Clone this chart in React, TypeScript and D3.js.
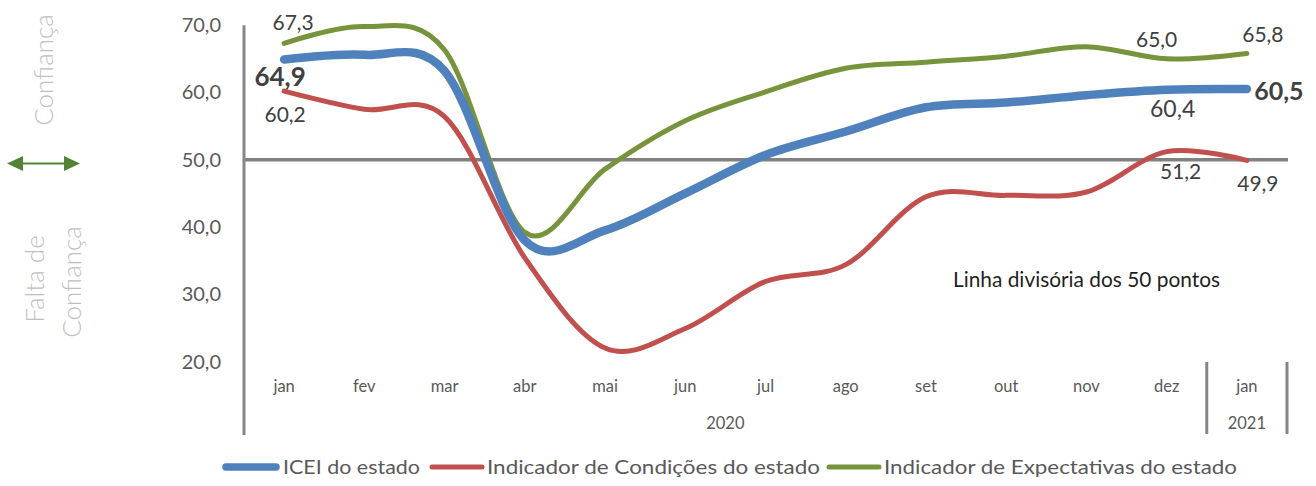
import React from "react";
import * as d3 from "d3";

const months = ["jan", "fev", "mar", "abr", "mai", "jun", "jul", "ago", "set", "out", "nov", "dez", "jan"];
const years = [
  { label: "2020", from: 0, to: 11 },
  { label: "2021", from: 12, to: 12 },
];
const icei = [64.9, 65.6, 63.2, 38.0, 39.5, 45.0, 50.7, 54.2, 57.8, 58.5, 59.6, 60.4, 60.5];
const condicoes = [60.2, 57.5, 56.4, 35.4, 22.0, 24.9, 31.9, 34.4, 44.5, 44.7, 45.2, 51.2, 49.9];
const expectativas = [67.3, 69.8, 66.3, 39.2, 48.6, 55.8, 60.1, 63.6, 64.5, 65.4, 66.8, 65.0, 65.8];
const yTicks = [20, 30, 40, 50, 60, 70];

const seriesNames = ["ICEI do estado", "Indicador de Condições do estado", "Indicador de Expectativas do estado"];
const seriesColors = ["#4f81bd", "#c0504d", "#77933c"];
const seriesWidths = [8.5, 5, 5];
const seriesData = [icei, condicoes, expectativas];

// data labels: series index, point index, offsets, font size, weight
const dataLabels = [
  { s: 2, i: 0, dx: 9, dy: -21, size: 21, bold: false },
  { s: 0, i: 0, dx: -4, dy: 17.5, size: 26, bold: true },
  { s: 1, i: 0, dx: 1, dy: 23, size: 21, bold: false },
  { s: 2, i: 11, dx: -10, dy: -19, size: 21, bold: false },
  { s: 2, i: 12, dx: 16, dy: -19, size: 21, bold: false },
  { s: 0, i: 11, dx: 6, dy: 19, size: 23, bold: false },
  { s: 0, i: 12, dx: 32, dy: 2, size: 25, bold: true },
  { s: 1, i: 11, dx: 14, dy: 19.5, size: 21, bold: false },
  { s: 1, i: 12, dx: 11, dy: 22.6, size: 21, bold: false },
];

const legendLayout = [
  { sx: 223, tx: 283, tw: 137 },
  { sx: 429, tx: 487, tw: 333 },
  { sx: 826, tx: 884, tw: 353 },
];

const FONT = "Lato, 'Open Sans', sans-serif";
const fmt = (v: number) => d3.format(".1f")(v).replace(".", ",");

export default function App() {
  const W = 1316;
  const H = 486;
  const left = 244;
  const right = 1287;
  const x = d3.scaleBand<number>().domain(months.map((_, i) => i)).range([left, right]).paddingInner(0).paddingOuter(0);
  const cx = (i: number) => (x(i) as number) + x.bandwidth() / 2;
  const y = d3.scaleLinear().domain([20, 70]).range([361.5, 25.2]);

  const line = d3
    .line<number>()
    .x((_, i) => cx(i))
    .y((d) => y(d))
    .curve(d3.curveCatmullRom.alpha(0));

  const axisColor = "#868686";
  const textColor = "#595959";

  return (
    <svg width={W} height={H} style={{ position: "absolute", left: 0, top: 0 }} fontFamily={FONT}>
      <rect x={0} y={0} width={W} height={H} fill="#ffffff" />

      {/* Left side labels */}
      <text
        transform={`translate(43,70) rotate(-90)`}
        textAnchor="middle"
        dominantBaseline="central"
        fontSize={26}
        fontWeight={300}
        fill="#bfbfbf"
      >
        Confiança
      </text>
      <text
        transform={`translate(34,279) rotate(-90)`}
        textAnchor="middle"
        dominantBaseline="central"
        fontSize={26}
        fontWeight={300}
        fill="#bfbfbf"
      >
        Falta de
      </text>
      <text
        transform={`translate(71,282) rotate(-90)`}
        textAnchor="middle"
        dominantBaseline="central"
        fontSize={26}
        fontWeight={300}
        fill="#bfbfbf"
      >
        Confiança
      </text>

      {/* double arrow */}
      <g fill="#548235" stroke="#548235">
        <line x1={20} y1={163.5} x2={67} y2={163.5} strokeWidth={2} />
        <path d="M7,163.5 L23,156 L23,171 Z" stroke="none" />
        <path d="M80,163.5 L64,156 L64,171 Z" stroke="none" />
      </g>

      {/* Y tick labels */}
      {yTicks.map((t) => (
        <text key={t} x={221} y={y(t) + 7} textAnchor="end" fontSize={20} fill={textColor}>
          {fmt(t)}
        </text>
      ))}

      {/* 50 line */}
      <line x1={left} x2={right + 1} y1={y(50)} y2={y(50)} stroke="#808080" strokeWidth={3.5} />

      {/* y axis line */}
      <line x1={left} x2={left} y1={y(70)} y2={435} stroke={axisColor} strokeWidth={3} />

      {/* category separators */}
      {[x(12) as number, right].map((sx, k) => (
        <line key={k} x1={sx} x2={sx} y1={362} y2={434} stroke={axisColor} strokeWidth={3} />
      ))}

      {/* month labels */}
      {months.map((m, i) => (
        <text key={i} x={cx(i)} y={392} textAnchor="middle" fontSize={16.5} fill={textColor}>
          {m}
        </text>
      ))}
      {years.map((yr) => {
        const x0 = x(yr.from) as number;
        const x1 = (x(yr.to) as number) + x.bandwidth();
        return (
          <text key={yr.label} x={(x0 + x1) / 2} y={429} textAnchor="middle" fontSize={16.5} fill={textColor}>
            {yr.label}
          </text>
        );
      })}

      {/* annotation */}
      <text x={953} y={287} fontSize={21} fill="#1f1f1f" textLength={267} lengthAdjust="spacingAndGlyphs">
        Linha divisória dos 50 pontos
      </text>

      {/* series lines (draw green, red first, then blue) */}
      {[2, 1, 0].map((s) => (
        <path
          key={s}
          d={line(seriesData[s]) || ""}
          fill="none"
          stroke={seriesColors[s]}
          strokeWidth={seriesWidths[s]}
          strokeLinecap="round"
          strokeLinejoin="round"
        />
      ))}

      {/* data labels */}
      {dataLabels.map((l, k) => {
        const v = seriesData[l.s][l.i];
        return (
          <text
            key={k}
            x={cx(l.i) + l.dx}
            y={y(v) + l.dy + 0.36 * l.size}
            textAnchor="middle"
            fontSize={l.size}
            fontWeight={l.bold ? 700 : 400}
            fill="#404040"
          >
            {fmt(v)}
          </text>
        );
      })}

      {/* legend */}
      {seriesNames.map((name, s) => {
        const L = legendLayout[s];
        return (
          <g key={s}>
            <line
              x1={L.sx + 3}
              x2={L.sx + 53}
              y1={467}
              y2={467}
              stroke={seriesColors[s]}
              strokeWidth={s === 0 ? 7.5 : 5}
              strokeLinecap="round"
            />
            <text x={L.tx} y={474} fontSize={20} fill={textColor} textLength={L.tw} lengthAdjust="spacingAndGlyphs">
              {name}
            </text>
          </g>
        );
      })}
    </svg>
  );
}
